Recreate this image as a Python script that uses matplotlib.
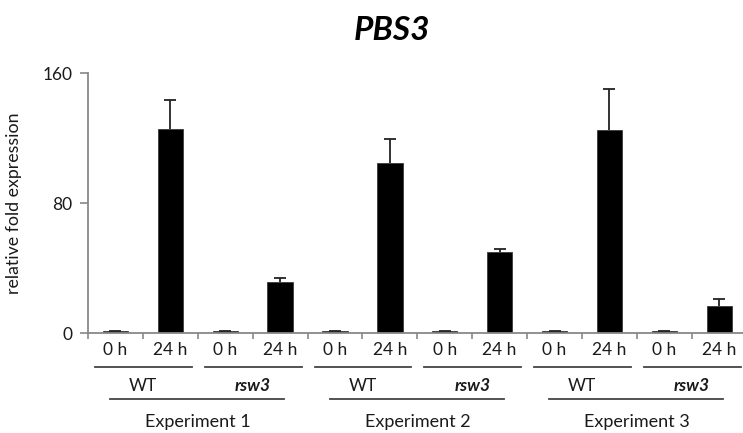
import matplotlib
matplotlib.use("Agg")
import matplotlib.pyplot as plt
import matplotlib.transforms as mtransforms
from matplotlib.lines import Line2D

plt.rcParams['font.family'] = ['Lato', 'DejaVu Sans']

# ---- data ----
time_labels = ["0 h", "24 h"] * 6
genotypes = ["WT", "rsw3", "WT", "rsw3", "WT", "rsw3"]
experiments = ["Experiment 1", "Experiment 2", "Experiment 3"]
values = [1.0, 125.8, 1.0, 31.3, 1.0, 104.9, 1.0, 50.2, 1.0, 124.8, 1.0, 16.7]
errors = [0.2, 18.0, 0.2, 2.5, 0.2, 14.6, 0.2, 1.6, 0.2, 25.5, 0.2, 4.3]
yticks = [0, 80, 160]
title = "PBS3"
ylabel = "relative fold expression"

W, H = 743, 433
fig = plt.figure(figsize=(W / 100, H / 100), dpi=100)
left_px, right_px, top_px, bot_px = 88, 746.7, 73.3, 333
ax = fig.add_axes([left_px / W, 1 - bot_px / H, (right_px - left_px) / W, (bot_px - top_px) / H])

FS = 12.5
TXT = '#1a1a1a'

x = list(range(len(values)))
ax.bar(x, values, width=0.46, color='black', edgecolor='#3a3a3a', linewidth=0.6, zorder=2)
eb = ax.errorbar(x, values, yerr=[[0] * len(errors), errors], fmt='none', ecolor='#222222',
                 elinewidth=1.3, capsize=4, capthick=1.3, zorder=3)
caplines = eb[1]
if len(caplines) >= 2:
    caplines[0].set_visible(False)

ax.set_xlim(-0.5, len(values) - 0.5)
ax.set_ylim(0, 160)
ax.set_yticks(yticks)
ax.set_yticklabels([str(t) for t in yticks], fontsize=FS, color=TXT)
ax.set_xticks([i - 0.5 for i in range(len(values))])
ax.set_xticklabels([])
ax.tick_params(axis='x', direction='out', length=4, width=1.2, color='#888888')
ax.tick_params(axis='y', direction='out', length=6, width=1.2, color='#888888', pad=5)
for s in ['top', 'right']:
    ax.spines[s].set_visible(False)
for s in ['left', 'bottom']:
    ax.spines[s].set_color('#888888')
    ax.spines[s].set_linewidth(1.3)
ax.spines['left'].set_bounds(0, 160)

ax.set_ylabel(ylabel, fontsize=12.8, color=TXT)
ax.yaxis.set_label_coords(-0.100, 0.5)

fig.text(392 / W, 1 - 30 / H, title, fontsize=24, fontweight='bold', fontstyle='italic',
         ha='center', va='center', color='black')

trans = mtransforms.blended_transform_factory(ax.transData, fig.transFigure)

def fy(py):
    return 1 - py / H

# time labels
for i, lab in enumerate(time_labels):
    ax.text(i, fy(350), lab, transform=trans, ha='center', va='center', fontsize=FS, color=TXT)

# genotype underlines and labels
for g, gen in enumerate(genotypes):
    a, b = 2 * g, 2 * g + 1
    ax.add_line(Line2D([a - 0.37, b + 0.39], [fy(366.7), fy(366.7)], transform=trans,
                       color='#444444', linewidth=1.3, clip_on=False))
    ax.text((a + b) / 2, fy(386), gen, transform=trans, ha='center', va='center', fontsize=FS,
            color=TXT, fontstyle='italic' if gen != "WT" else 'normal',
            fontweight='bold' if gen != "WT" else 'normal')

# experiment underlines and labels
for e, exp in enumerate(experiments):
    a, b = 4 * e, 4 * e + 3
    ax.add_line(Line2D([a - 0.1, b + 0.07], [fy(399.3), fy(399.3)], transform=trans,
                       color='#444444', linewidth=1.3, clip_on=False))
    ax.text((a + b) / 2, fy(421.7), exp, transform=trans, ha='center', va='center', fontsize=13,
            color=TXT)

fig.savefig("out.png", dpi=100)
